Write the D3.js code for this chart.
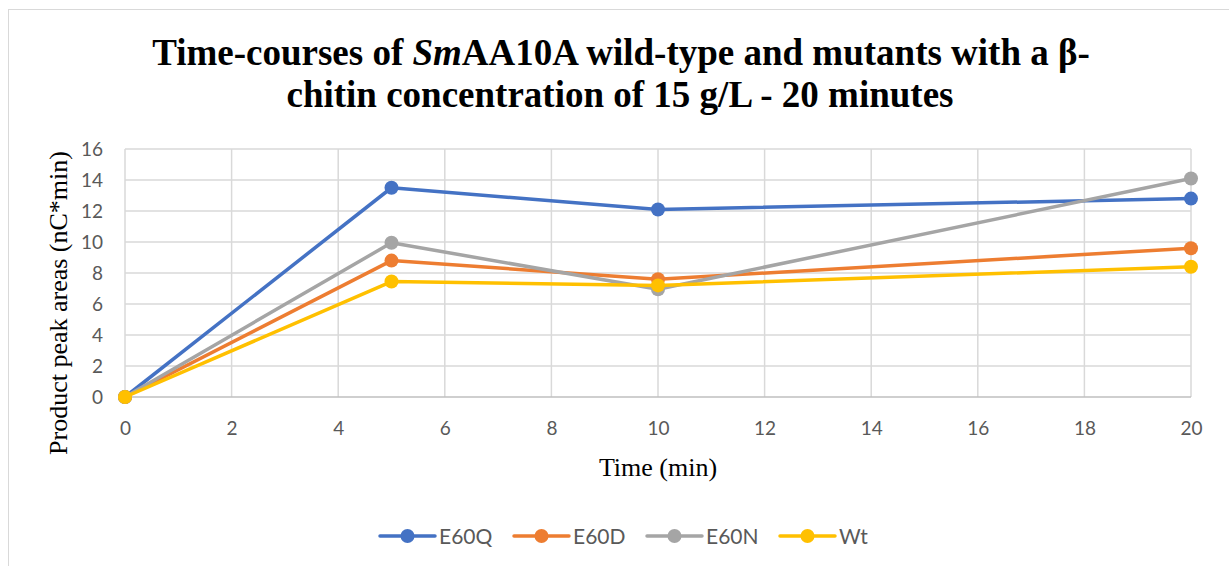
<!DOCTYPE html>
<html>
<head>
<meta charset="utf-8">
<script src="https://cdn.jsdelivr.net/npm/d3@7"></script>
<style>
  html, body { margin: 0; padding: 0; background: #fff; }
  svg { display: block; }
</style>
</head>
<body>
<svg id="chart" width="1229" height="566"></svg>
<script>
// data
const times = [0, 5, 10, 20];
const seriesNames = ['E60Q', 'E60D', 'E60N', 'Wt'];
const e60q = [0, 13.5, 12.1, 12.8];
const e60d = [0, 8.8, 7.6, 9.6];
const e60n = [0, 9.95, 6.95, 14.1];
const wt = [0, 7.45, 7.2, 8.4];
const seriesColors = ['#4472C4', '#ED7D31', '#A5A5A5', '#FFC000'];
const xTicks = [0, 2, 4, 6, 8, 10, 12, 14, 16, 18, 20];
const yTicks = [0, 2, 4, 6, 8, 10, 12, 14, 16];

const seriesValues = [e60q, e60d, e60n, wt];
const series = seriesNames.map((name, i) => ({
  name: name,
  color: seriesColors[i],
  points: times.map((t, j) => ({ t: t, v: seriesValues[i][j] }))
}));

const svg = d3.select('#chart');
const plot = { left: 125, right: 1191, top: 149, bottom: 397 };

const x = d3.scaleLinear().domain([0, 20]).range([plot.left, plot.right]);
const y = d3.scaleLinear().domain([0, 16]).range([plot.bottom, plot.top]);

// outer chart frame
svg.append('rect')
  .attr('x', 8.5).attr('y', 9.5)
  .attr('width', 1300).attr('height', 700)
  .attr('fill', 'none')
  .attr('stroke', '#d9d9d9')
  .attr('stroke-width', 1);

// title
const title = svg.append('text')
  .attr('text-anchor', 'middle')
  .attr('font-family', '"Liberation Serif", "Times New Roman", serif')
  .attr('font-weight', 'bold')
  .attr('font-size', 37)
  .attr('fill', '#000');
const line1 = title.append('tspan').attr('x', 621).attr('y', 65);
line1.append('tspan').text('Time-courses of ');
line1.append('tspan').attr('font-style', 'italic').text('Sm');
line1.append('tspan').text('AA10A wild-type and mutants with a β-');
title.append('tspan').attr('x', 620).attr('y', 107)
  .text('chitin concentration of 15 g/L - 20 minutes');

// gridlines
const grid = svg.append('g').attr('stroke', '#d9d9d9').attr('stroke-width', 1.5);
grid.selectAll('line.h')
  .data(yTicks.filter(d => d > 0))
  .join('line')
    .attr('class', 'h')
    .attr('x1', plot.left).attr('x2', plot.right)
    .attr('y1', d => y(d)).attr('y2', d => y(d));
grid.selectAll('line.v')
  .data(xTicks)
  .join('line')
    .attr('class', 'v')
    .attr('x1', d => x(d)).attr('x2', d => x(d))
    .attr('y1', plot.top).attr('y2', plot.bottom);

// x axis line
svg.append('line')
  .attr('x1', plot.left).attr('x2', plot.right)
  .attr('y1', y(0)).attr('y2', y(0))
  .attr('stroke', '#bfbfbf').attr('stroke-width', 1.5);

// tick labels
const tickFont = 'Lato, "Open Sans", sans-serif';
const xAxis = d3.axisBottom(x).tickValues(xTicks).tickSize(0).tickPadding(0);
svg.append('g')
  .attr('transform', `translate(0, ${plot.bottom + 38})`)
  .call(xAxis)
  .call(g => g.select('.domain').remove())
  .call(g => g.selectAll('text')
    .attr('dy', 0)
    .attr('font-family', tickFont)
    .attr('font-size', 19)
    .attr('fill', '#595959'));

const yAxis = d3.axisLeft(y).tickValues(yTicks).tickSize(0).tickPadding(0);
svg.append('g')
  .attr('transform', `translate(${plot.left - 22}, 0)`)
  .call(yAxis)
  .call(g => g.select('.domain').remove())
  .call(g => g.selectAll('text')
    .attr('dy', '0.35em')
    .attr('font-family', tickFont)
    .attr('font-size', 19)
    .attr('fill', '#595959'));

// axis titles
svg.append('text')
  .attr('x', 658).attr('y', 476)
  .attr('text-anchor', 'middle')
  .attr('font-family', '"Liberation Serif", "Times New Roman", serif')
  .attr('font-size', 26)
  .attr('fill', '#000')
  .text('Time (min)');

svg.append('text')
  .attr('transform', 'translate(67, 303) rotate(-90)')
  .attr('text-anchor', 'middle')
  .attr('font-family', '"Liberation Serif", "Times New Roman", serif')
  .attr('font-size', 26)
  .attr('fill', '#000')
  .text('Product peak areas (nC*min)');

// series
const line = d3.line().x(d => x(d.t)).y(d => y(d.v));
const seriesG = svg.append('g').selectAll('g')
  .data(series)
  .join('g');

seriesG.append('path')
  .attr('d', d => line(d.points))
  .attr('fill', 'none')
  .attr('stroke', d => d.color)
  .attr('stroke-width', 3.5)
  .attr('stroke-linejoin', 'round')
  .attr('stroke-linecap', 'round');

seriesG.selectAll('circle')
  .data(d => d.points.map(p => ({ ...p, color: d.color })))
  .join('circle')
    .attr('cx', d => x(d.t))
    .attr('cy', d => y(d.v))
    .attr('r', 7)
    .attr('fill', d => d.color);

// legend
const legendX = [380, 514, 647, 780];
const legendY = 536;
const legend = svg.append('g').selectAll('g')
  .data(series)
  .join('g')
    .attr('transform', (d, i) => `translate(${legendX[i]}, ${legendY})`);

legend.append('line')
  .attr('x1', 0).attr('x2', 55)
  .attr('stroke', d => d.color)
  .attr('stroke-width', 3.5)
  .attr('stroke-linecap', 'round');
legend.append('circle')
  .attr('cx', 27.5).attr('r', 7)
  .attr('fill', d => d.color);
legend.append('text')
  .attr('x', 59).attr('dy', '0.36em')
  .attr('font-family', tickFont)
  .attr('font-size', 21)
  .attr('fill', '#595959')
  .text(d => d.name);
</script>
</body>
</html>
